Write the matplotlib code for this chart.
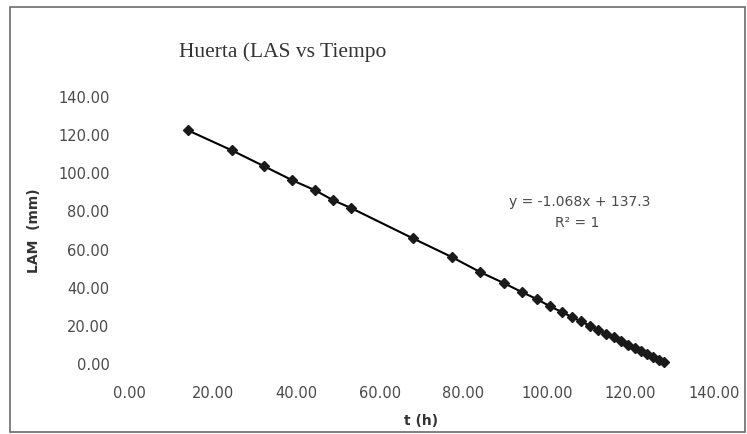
import matplotlib
matplotlib.use("Agg")
import matplotlib.pyplot as plt
from matplotlib.patches import Rectangle

# Data
t_h = [14.1, 24.6, 32.4, 39.1, 44.5, 48.9, 53.2, 67.9, 77.3, 84.1, 89.7, 94.0,
       97.6, 100.7, 103.6, 106.0, 108.2, 110.3, 112.3, 114.2, 116.0, 117.7,
       119.4, 121.0, 122.5, 124.0, 125.4, 126.8, 128.1]
lam_mm = [122.0, 111.5, 103.1, 95.8, 90.6, 85.3, 81.2, 65.4, 55.5, 47.6, 41.9, 37.2,
          33.5, 29.8, 26.7, 24.1, 21.8, 19.5, 17.4, 15.3, 13.4, 11.5,
          9.6, 7.8, 6.1, 4.5, 2.9, 1.4, 0.6]
x_ticks = [0, 20, 40, 60, 80, 100, 120, 140]
y_ticks = [0, 20, 40, 60, 80, 100, 120, 140]
title_text = "Huerta (LAS vs Tiempo"
eq_text = "y = -1.068x + 137.3"
r2_text = "R² = 1"

W, H = 747, 435
fig = plt.figure(figsize=(W / 100, H / 100), dpi=100)
fig.patch.set_facecolor("white")

# chart border
fig.patches.append(Rectangle((10 / W, 1 - 433 / H), (745 - 10) / W, (433 - 8) / H,
                             transform=fig.transFigure, fill=False,
                             edgecolor="#6b6b6b", linewidth=1.2))

left, right = 129 / W, 714 / W
bottom, top = 1 - 364 / H, 1 - 97 / H
ax = fig.add_axes([left, bottom, right - left, top - bottom])
ax.set_xlim(0, 140)
ax.set_ylim(0, 140)
for s in ax.spines.values():
    s.set_visible(False)
ax.tick_params(length=0, labelsize=10.5, colors="#4a4a4a")
ax.set_xticks(x_ticks)
ax.set_yticks(y_ticks)
ax.set_xticklabels([f"{v:.2f}" for v in x_ticks])
ax.set_yticklabels([f"{v:.2f}" for v in y_ticks])
ax.tick_params(axis="x", pad=16)
ax.tick_params(axis="y", pad=14)

ax.plot(t_h, lam_mm, color="black", linewidth=1.5, marker="D", markersize=5.5,
        markerfacecolor="#1a1a1a", markeredgecolor="#1a1a1a", clip_on=False)

ax.set_xlabel("t (h)", fontsize=10, fontweight="bold", color="#333333", labelpad=9)
ax.set_ylabel("LAM  (mm)", fontsize=10, fontweight="bold", color="#333333", labelpad=12)

fig.text(283 / W, 1 - 52 / H, title_text, family="Liberation Serif", fontsize=15.5,
         color="#333333", ha="center", va="center")
fig.text(580 / W, 1 - 202 / H, eq_text, fontsize=10, color="#4a4a4a",
         ha="center", va="center")
fig.text(577 / W, 1 - 223 / H, r2_text, fontsize=10, color="#4a4a4a",
         ha="center", va="center")

fig.savefig("out.png", dpi=100, facecolor="white")
